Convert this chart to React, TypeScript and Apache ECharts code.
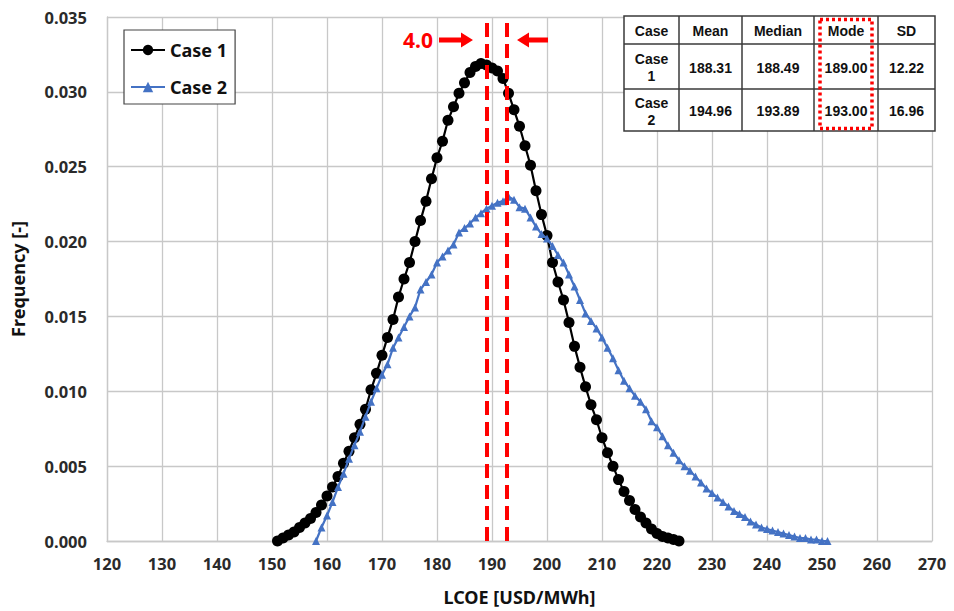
import React, { useEffect, useRef } from "react";
import * as echarts from "echarts";

const case1Start = 151;
const case1Values = [
  0.0000, 0.0002, 0.0004, 0.0006, 0.0009, 0.0012, 0.0015, 0.0019, 0.0024, 0.0030,
  0.0036, 0.0043, 0.0052, 0.0060, 0.0069, 0.0078, 0.0088, 0.0101, 0.0112, 0.0124,
  0.0136, 0.0148, 0.0163, 0.0175, 0.0186, 0.0200, 0.0214, 0.0227, 0.0242, 0.0256,
  0.0267, 0.0281, 0.0290, 0.0299, 0.0306, 0.0313, 0.0317, 0.0319, 0.0318, 0.0316,
  0.0314, 0.0309, 0.0299, 0.0288, 0.0277, 0.0264, 0.0251, 0.0234, 0.0218, 0.0204,
  0.0186, 0.0173, 0.0161, 0.0146, 0.0130, 0.0116, 0.0103, 0.0091, 0.0081, 0.0069,
  0.0059, 0.0050, 0.0041, 0.0033, 0.0027, 0.0021, 0.0016, 0.0012, 0.0008, 0.0005,
  0.0003, 0.0002, 0.0001, 0.0000,
];

const case2Start = 158;
const case2Values = [
  0.0000, 0.0009, 0.0017, 0.0026, 0.0036, 0.0045, 0.0055, 0.0064, 0.0073, 0.0083,
  0.0093, 0.0102, 0.0111, 0.0118, 0.0129, 0.0136, 0.0143, 0.0150, 0.0156, 0.0168,
  0.0173, 0.0178, 0.0186, 0.0190, 0.0194, 0.0198, 0.0206, 0.0209, 0.0212, 0.0216,
  0.0219, 0.0222, 0.0224, 0.0226, 0.0227, 0.0230, 0.0228, 0.0223, 0.0222, 0.0216,
  0.0210, 0.0205, 0.0202, 0.0197, 0.0191, 0.0186, 0.0178, 0.0170, 0.0161, 0.0152,
  0.0147, 0.0142, 0.0136, 0.0129, 0.0122, 0.0114, 0.0107, 0.0102, 0.0097, 0.0093,
  0.0088, 0.0080, 0.0076, 0.0070, 0.0064, 0.0059, 0.0054, 0.0050, 0.0047, 0.0043,
  0.0039, 0.0035, 0.0032, 0.0029, 0.0026, 0.0023, 0.0020, 0.0018, 0.0016, 0.0013,
  0.0011, 0.0009, 0.0008, 0.0007, 0.0006, 0.0005, 0.0004, 0.0003, 0.0002, 0.0002,
  0.0001, 0.0001, 0.0000, 0.0000,
];

const modeLines = [189, 192.7];
const modeGapLabel = "4.0";

const tableHeader = ["Case", "Mean", "Median", "Mode", "SD"];
const tableRows = [
  ["Case\n1", "188.31", "188.49", "189.00", "12.22"],
  ["Case\n2", "194.96", "193.89", "193.00", "16.96"],
];

const FONT = "'Noto Sans', 'Noto Sans CJK KR', sans-serif";
const TFONT = "'Liberation Sans', Arial, sans-serif";

function buildTable(): any[] {
  const colX = [624, 679, 742, 814, 878, 935];
  const rowY = [16, 44, 89, 131];
  const els: any[] = [];
  els.push({
    type: "rect",
    shape: { x: colX[0], y: rowY[0], width: colX[5] - colX[0], height: rowY[3] - rowY[0] },
    style: { fill: "#ffffff", stroke: "#3a3a3a", lineWidth: 1.5 },
    z: 10,
  });
  for (let i = 1; i < colX.length - 1; i++) {
    els.push({
      type: "line",
      shape: { x1: colX[i], y1: rowY[0], x2: colX[i], y2: rowY[3] },
      style: { stroke: "#3a3a3a", lineWidth: 1.5 },
      z: 11,
    });
  }
  for (let j = 1; j < rowY.length - 1; j++) {
    els.push({
      type: "line",
      shape: { x1: colX[0], y1: rowY[j], x2: colX[5], y2: rowY[j] },
      style: { stroke: "#3a3a3a", lineWidth: 1.5 },
      z: 11,
    });
  }
  const rows = [tableHeader, ...tableRows];
  rows.forEach((row, r) => {
    row.forEach((txt, c) => {
      els.push({
        type: "text",
        x: (colX[c] + colX[c + 1]) / 2,
        y: (rowY[r] + rowY[r + 1]) / 2 + 1,
        style: {
          text: txt,
          fill: "#111",
          font: `bold 14px ${TFONT}`,
          align: "center",
          verticalAlign: "middle",
          lineHeight: 17,
        },
        z: 12,
      });
    });
  });
  els.push({
    type: "rect",
    shape: { x: 820, y: 19.5, width: 52, height: 109 },
    style: { fill: "none", stroke: "#ff0000", lineWidth: 3.5, lineDash: [3, 3] },
    z: 13,
  });
  return els;
}

function buildArrows(): any[] {
  const y = 40;
  return [
    {
      type: "text",
      x: 418,
      y: y,
      style: {
        text: modeGapLabel,
        fill: "#ff0000",
        font: `bold 21px ${FONT}`,
        align: "center",
        verticalAlign: "middle",
      },
      z: 10,
    },
    {
      type: "polygon",
      shape: {
        points: [
          [439, y - 2.5], [461, y - 2.5], [461, y - 7.5], [473, y],
          [461, y + 7.5], [461, y + 2.5], [439, y + 2.5],
        ],
      },
      style: { fill: "#ff0000" },
      z: 10,
    },
    {
      type: "polygon",
      shape: {
        points: [
          [548, y - 2.5], [529, y - 2.5], [529, y - 7.5], [517, y],
          [529, y + 7.5], [529, y + 2.5], [548, y + 2.5],
        ],
      },
      style: { fill: "#ff0000" },
      z: 10,
    },
  ];
}

export default function App() {
  const ref = useRef<HTMLDivElement>(null);
  useEffect(() => {
    if (!ref.current) return;
    const chart = echarts.init(ref.current, null, { renderer: "svg" });
    const d1 = case1Values.map((v, i) => [case1Start + i, v]);
    const d2 = case2Values.map((v, i) => [case2Start + i, v]);
    chart.setOption({
      animation: false,
      backgroundColor: "#ffffff",
      grid: { left: 107, right: 22, top: 17, bottom: 70, containLabel: false },
      legend: {
        orient: "vertical",
        left: 124,
        top: 30,
        backgroundColor: "#ffffff",
        borderColor: "#444",
        borderWidth: 1.2,
        borderRadius: 0,
        padding: [11, 8, 8, 6],
        itemGap: 19,
        itemWidth: 34,
        itemHeight: 13,
        textStyle: { fontFamily: FONT, fontWeight: "bold", fontSize: 18, color: "#111" },
        data: ["Case 1", "Case 2"],
      },
      xAxis: {
        type: "value",
        min: 120,
        max: 270,
        interval: 10,
        name: "LCOE [USD/MWh]",
        nameLocation: "middle",
        nameGap: 47,
        nameTextStyle: { fontFamily: FONT, fontWeight: "bold", fontSize: 18, color: "#111" },
        axisLine: { show: true, lineStyle: { color: "#c8c8c8", width: 1.3 } },
        axisTick: { show: false },
        axisLabel: { margin: 14, fontFamily: FONT, fontWeight: "bold", fontSize: 16.5, color: "#2a2a2a" },
        splitLine: { show: true, lineStyle: { color: "#c8c8c8", width: 1.3 } },
      },
      yAxis: {
        type: "value",
        min: 0,
        max: 0.035,
        interval: 0.005,
        name: "Frequency [-]",
        nameLocation: "middle",
        nameGap: 80,
        nameTextStyle: { fontFamily: FONT, fontWeight: "bold", fontSize: 18, color: "#111" },
        axisLine: { show: true, lineStyle: { color: "#c8c8c8", width: 1.3 } },
        axisTick: { show: false },
        axisLabel: {
          margin: 20,
          fontFamily: FONT,
          fontWeight: "bold",
          fontSize: 16.5,
          color: "#2a2a2a",
          formatter: (v: number) => v.toFixed(3),
        },
        splitLine: { show: true, lineStyle: { color: "#c8c8c8", width: 1.3 } },
      },
      series: [
        {
          name: "Case 1",
          type: "line",
          data: d1,
          symbol: "circle",
          symbolSize: 11,
          itemStyle: { color: "#000000" },
          lineStyle: { color: "#000000", width: 2.2 },
          z: 3,
          markLine: {
            silent: true,
            symbol: "none",
            label: { show: false },
            lineStyle: { color: "#ff0000", width: 4, type: [14, 7] },
            data: modeLines.map((v) => ({ xAxis: v })),
            z: 5,
          },
        },
        {
          name: "Case 2",
          type: "line",
          data: d2,
          symbol: "triangle",
          symbolSize: 8,
          itemStyle: { color: "#4472C4" },
          lineStyle: { color: "#4472C4", width: 2.2 },
          z: 4,
        },
      ],
      graphic: [...buildArrows(), ...buildTable()],
    });
    return () => chart.dispose();
  }, []);
  return (
    <div
      ref={ref}
      style={{ position: "fixed", left: 0, top: 0, width: 954, height: 611, background: "#fff" }}
    />
  );
}
